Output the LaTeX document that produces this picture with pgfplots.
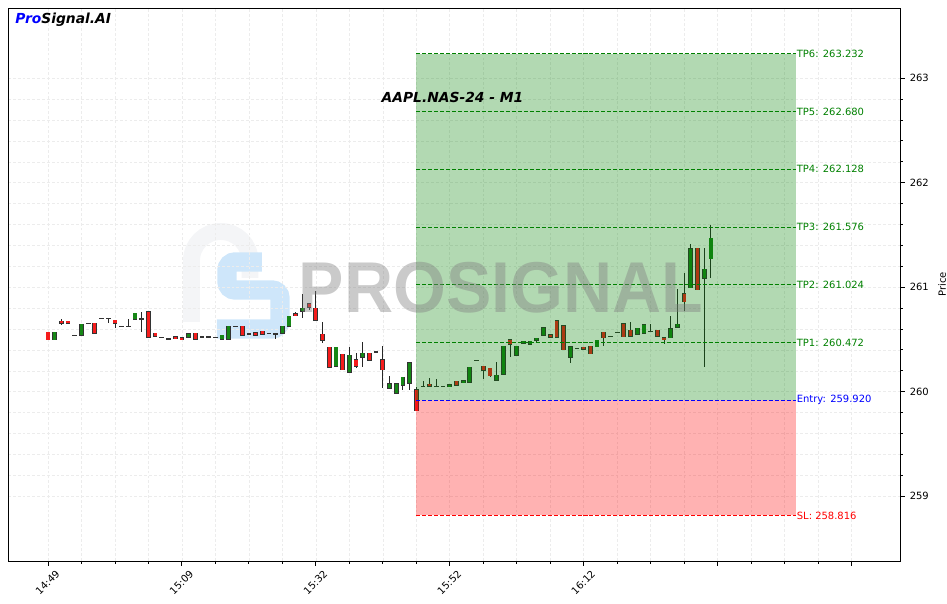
\documentclass[border=0pt]{standalone}
\usepackage{fontspec}
\setmainfont{DejaVu Sans}[BoldFont={DejaVu Sans Bold},ItalicFont={DejaVu Sans Oblique},BoldItalicFont={DejaVu Sans Bold Oblique}]
\newfontfamily\wmfont{Liberation Sans Bold}
\usepackage{pgfplots}
\pgfplotsset{compat=1.18}
\usepackage{pgfplotstable}

\definecolor{cgreen}{RGB}{22,135,22}
\definecolor{cred}{RGB}{245,28,28}
\definecolor{tpgreen}{RGB}{0,128,0}
\definecolor{gridc}{RGB}{236,236,236}
\definecolor{logoblue}{RGB}{206,230,250}
\definecolor{logogray}{RGB}{244,245,247}

% up (close >= open) candles: x open high low close
\pgfplotstableread{
x o h l c
1 260.498 260.568 260.498 260.568
4 260.540 260.540 260.540 260.540
5 260.540 260.645 260.540 260.645
6 260.655 260.655 260.655 260.655
8 260.702 260.702 260.702 260.702
9 260.702 260.702 260.655 260.702
11 260.626 260.626 260.626 260.626
12 260.626 260.693 260.626 260.626
13 260.693 260.750 260.693 260.750
14 260.700 260.760 260.574 260.700
17 260.520 260.520 260.520 260.520
18 260.507 260.515 260.500 260.507
21 260.526 260.552 260.526 260.552
23 260.526 260.526 260.526 260.526
24 260.526 260.535 260.526 260.526
25 260.520 260.520 260.520 260.520
26 260.507 260.540 260.507 260.540
27 260.507 260.626 260.507 260.626
28 260.626 260.626 260.626 260.626
30 260.552 260.552 260.552 260.552
33 260.559 260.559 260.559 260.559
34 260.552 260.552 260.507 260.552
35 260.559 260.626 260.559 260.626
36 260.626 260.722 260.626 260.722
38 260.769 260.932 260.702 260.798
43 260.246 260.425 260.246 260.425
45 260.186 260.425 260.186 260.348
47 260.329 260.473 260.233 260.367
49 260.380 260.390 260.380 260.380
51 260.033 260.147 260.033 260.074
52 259.985 260.080 259.985 260.080
53 260.061 260.138 260.020 260.138
54 260.086 260.281 260.020 260.281
56 260.052 260.102 260.052 260.052
58 260.052 260.120 260.052 260.052
59 260.052 260.052 260.052 260.052
60 260.048 260.064 260.048 260.064
62 260.086 260.102 260.086 260.102
63 260.090 260.233 260.090 260.233
64 260.300 260.300 260.300 260.300
67 260.115 260.281 260.115 260.157
68 260.166 260.434 260.166 260.434
70 260.348 260.434 260.348 260.434
71 260.463 260.482 260.463 260.482
72 260.456 260.482 260.456 260.482
73 260.495 260.511 260.478 260.511
74 260.545 260.610 260.545 260.610
78 260.329 260.428 260.281 260.428
79 260.415 260.415 260.415 260.415
82 260.431 260.492 260.431 260.492
84 260.530 260.530 260.530 260.530
85 260.568 260.568 260.568 260.568
88 260.555 260.607 260.555 260.607
89 260.565 260.638 260.565 260.638
90 260.578 260.645 260.578 260.578
93 260.517 260.724 260.517 260.600
94 260.622 260.980 260.622 260.645
96 260.995 261.413 260.995 261.366
98 261.091 261.372 260.233 261.171
99 261.273 261.595 261.091 261.468
}\upcandles

% down (close < open) candles
\pgfplotstableread{
x o h l c
0 260.568 260.568 260.498 260.498
2 260.674 260.699 260.641 260.655
3 260.674 260.674 260.655 260.655
7 260.655 260.655 260.559 260.559
10 260.683 260.683 260.607 260.655
15 260.769 260.769 260.526 260.526
16 260.559 260.559 260.530 260.530
19 260.526 260.526 260.510 260.510
20 260.515 260.515 260.500 260.500
22 260.559 260.559 260.507 260.507
29 260.626 260.626 260.545 260.545
31 260.562 260.562 260.545 260.545
32 260.578 260.578 260.549 260.549
37 260.746 260.760 260.731 260.731
39 260.839 260.839 260.780 260.808
40 260.798 260.961 260.683 260.683
41 260.549 260.664 260.463 260.498
42 260.425 260.425 260.233 260.233
44 260.358 260.358 260.211 260.211
46 260.303 260.367 260.224 260.249
48 260.367 260.367 260.300 260.300
50 260.303 260.437 260.033 260.211
55 260.016 260.048 259.818 259.818
57 260.071 260.128 260.052 260.052
61 260.099 260.099 260.061 260.061
65 260.243 260.243 260.119 260.205
66 260.224 260.224 260.145 260.153
69 260.495 260.495 260.329 260.456
75 260.543 260.543 260.520 260.526
76 260.677 260.677 260.526 260.526
77 260.629 260.629 260.402 260.402
80 260.425 260.425 260.412 260.412
81 260.434 260.434 260.364 260.364
83 260.568 260.568 260.434 260.517
86 260.648 260.648 260.526 260.526
87 260.588 260.664 260.536 260.536
91 260.588 260.588 260.536 260.536
92 260.514 260.514 260.454 260.498
95 260.935 261.133 260.775 260.861
97 261.372 261.372 260.976 260.976
}\downcandles

\pgfplotsset{
  wick/.style={draw=none, mark=none, forget plot,
    error bars/.cd, y dir=both, y explicit, error mark=none,
    error bar style={draw=black!85, line width=0.6bp, solid}},
  bodyedge/.style={draw=none, mark=none, forget plot,
    error bars/.cd, y dir=both, y explicit, error mark=none,
    error bar style={draw=black!80, line width=3.4bp, solid}},
  bodyfill/.style={draw=none, mark=none, forget plot,
    error bars/.cd, y dir=both, y explicit, error mark=none,
    error bar style={draw=#1, line width=2.3bp, solid}},
  lvl/.style={#1, line width=0.75bp, dash pattern=on 2.9bp off 1.4bp, forget plot},
}
\tikzset{
  lvltxt/.style={anchor=west, inner sep=0pt, xshift=0.3bp, text=#1,
    font=\fontsize{7.2}{8}\selectfont},
}

\begin{document}
\begin{tikzpicture}
\path[use as bounding box] (0,0) rectangle (681.84bp,434.16bp);

% watermark logo (behind the chart)
\begin{scope}[shift={(0,434.16bp)}, x=0.72bp, y=-0.72bp]
  \draw[logogray, line width=12.2bp, line cap=butt]
    (191.5,322) -- (191.5,260.75) arc[start angle=180, end angle=360, radius=29.25] -- (250,278);
  \draw[logoblue, line width=14bp, rounded corners=6bp, line cap=butt]
    (262,262) -- (227,262) -- (227,290) -- (280,290) -- (280,329) -- (217,329);
\end{scope}

\begin{axis}[
  at={(5.76bp,30.24bp)}, anchor=south west,
  scale only axis, width=642.24bp, height=398.16bp,
  xmin=-5.97, xmax=127.24, ymin=258.38, ymax=263.672,
  xtick={0,20,...,120},
  xticklabels={14:49,15:09,15:32,15:52,16:12,{},{}},
  minor x tick num=3,
  ytick={259,260,261,262,263},
  minor y tick num=4,
  xtick pos=left, ytick pos=right, yticklabel pos=right,
  tick align=outside,
  major tick length=3.5bp, minor tick length=2bp,
  grid=both,
  major grid style={gridc, line width=0.4bp, dash pattern=on 2bp off 1.5bp},
  minor grid style={gridc, line width=0.4bp, dash pattern=on 2bp off 1.5bp},
  axis line style={line width=0.7bp, black},
  every tick/.style={black, line width=0.6bp},
  ticklabel style={font=\fontsize{7.2}{8}\selectfont},
  /pgf/number format/assume math mode=true,
  xticklabel style={yshift=-12bp, xshift=-0.3bp, rotate=45, anchor=center},
  ylabel={Price},
  ylabel style={font=\fontsize{7.2}{8}\selectfont},
  clip=true,
]

% wicks
\addplot[wick] table[x=x, y expr={(\thisrow{h}+\thisrow{l})/2}, y error expr={(\thisrow{h}-\thisrow{l})/2}] \upcandles;
\addplot[wick] table[x=x, y expr={(\thisrow{h}+\thisrow{l})/2}, y error expr={(\thisrow{h}-\thisrow{l})/2}] \downcandles;
% body edges
\addplot[bodyedge] table[x=x, y expr={(\thisrow{o}+\thisrow{c})/2}, y error expr={abs(\thisrow{c}-\thisrow{o})/2+0.0068}] \upcandles;
\addplot[bodyedge] table[x=x, y expr={(\thisrow{o}+\thisrow{c})/2}, y error expr={abs(\thisrow{c}-\thisrow{o})/2+0.0068}] \downcandles;
% body fills
\addplot[bodyfill=cgreen] table[x=x, y expr={(\thisrow{o}+\thisrow{c})/2}, y error expr={abs(\thisrow{c}-\thisrow{o})/2}] \upcandles;
\addplot[bodyfill=cred] table[x=x, y expr={(\thisrow{o}+\thisrow{c})/2}, y error expr={abs(\thisrow{c}-\thisrow{o})/2}] \downcandles;

% trade zones
\addplot[fill=tpgreen, fill opacity=0.3, draw=none, forget plot]
  coordinates {(55,259.92) (111.7,259.92) (111.7,263.232) (55,263.232)} -- cycle;
\addplot[fill=red, fill opacity=0.3, draw=none, forget plot]
  coordinates {(55,258.816) (111.7,258.816) (111.7,259.92) (55,259.92)} -- cycle;

% levels
\addplot[lvl=tpgreen] coordinates {(55,263.232) (111.7,263.232)} node[pos=1, lvltxt=tpgreen] {TP6: 263.232};
\addplot[lvl=tpgreen] coordinates {(55,262.680) (111.7,262.680)} node[pos=1, lvltxt=tpgreen] {TP5: 262.680};
\addplot[lvl=tpgreen] coordinates {(55,262.128) (111.7,262.128)} node[pos=1, lvltxt=tpgreen] {TP4: 262.128};
\addplot[lvl=tpgreen] coordinates {(55,261.576) (111.7,261.576)} node[pos=1, lvltxt=tpgreen] {TP3: 261.576};
\addplot[lvl=tpgreen] coordinates {(55,261.024) (111.7,261.024)} node[pos=1, lvltxt=tpgreen] {TP2: 261.024};
\addplot[lvl=tpgreen] coordinates {(55,260.472) (111.7,260.472)} node[pos=1, lvltxt=tpgreen] {TP1: 260.472};
\addplot[lvl=blue] coordinates {(55,259.920) (111.7,259.920)} node[pos=1, lvltxt=blue] {Entry: 259.920};
\addplot[lvl=red] coordinates {(55,258.816) (111.7,258.816)} node[pos=1, lvltxt=red] {SL: 258.816};

\end{axis}

% texts and watermark text (pixel coordinates)
\begin{scope}[shift={(0,434.16bp)}, x=0.72bp, y=-0.72bp]
  \node[text=gray, opacity=0.42, font=\wmfont\fontsize{52}{52}\selectfont, xscale=0.945, inner sep=0pt]
    at (501,288) {PROSIGNAL};
  \node[font=\bfseries\itshape\fontsize{10}{12}\selectfont, inner sep=0pt] at (452.5,97) {AAPL.NAS-24 - M1};
  \node[anchor=west, font=\bfseries\itshape\fontsize{10}{12}\selectfont, inner sep=0pt] at (15,19.5)
    {\textcolor{blue}{Pro}Signal.AI};
\end{scope}
\end{tikzpicture}
\end{document}
